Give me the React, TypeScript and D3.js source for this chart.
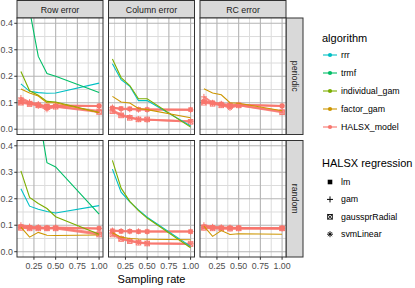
import React from 'react'
import * as d3 from 'd3'

const samplingRates = [0.1, 0.2, 0.3, 0.4, 0.5, 1.0]
const xTicks = [0.25, 0.5, 0.75, 1.0]
const xMinor = [0.125, 0.375, 0.625, 0.875]
const yTicks = [0, 0.1, 0.2, 0.3, 0.4]
const yMinor = [0.05, 0.15, 0.25, 0.35]

const errorTypes = ['Row error', 'Column error', 'RC error']
const patterns = ['periodic', 'random']
const algorithms = ['rrr', 'trmf', 'individual_gam', 'factor_gam', 'HALSX_model']
const algorithmColours = ['#00BFC4', '#00BE67', '#7CAE00', '#CD9600', '#F8766D']
const regressions = ['lm', 'gam', 'gaussprRadial', 'svmLinear']

// Row error, periodic
const rrrRowPeriodic = [0.171, 0.143, 0.138, 0.136, 0.137, 0.174]
const trmfRowPeriodic = [0.62, 0.45, 0.275, 0.21, 0.2, 0.139]
const indGamRowPeriodic = [0.218, 0.145, 0.128, 0.105, 0.103, 0.063]
const facGamRowPeriodic = [0.152, 0.137, 0.125, 0.1, 0.1, 0.062]
const lmRowPeriodic = [0.102, 0.098, 0.092, 0.088, 0.088, 0.088]
const gamRowPeriodic = [0.118, 0.102, 0.095, 0.08, 0.09, 0.088]
const gpRowPeriodic = [0.1, 0.095, 0.09, 0.085, 0.085, 0.065]
const svmRowPeriodic = [0.11, 0.1, 0.088, 0.075, 0.086, 0.07]

// Column error, periodic
const rrrColPeriodic = [0.247, 0.187, 0.162, 0.108, 0.108, 0.012]
const indGamColPeriodic = [0.265, 0.195, 0.165, 0.115, 0.115, 0.008]
const facGamColPeriodic = [0.124, 0.103, 0.099, 0.078, 0.074, 0.043]
const lmColPeriodic = [0.08, 0.078, 0.077, 0.075, 0.074, 0.074]
const gamColPeriodic = [0.082, 0.076, 0.075, 0.074, 0.074, 0.073]
const gpColPeriodic = [0.068, 0.052, 0.043, 0.037, 0.037, 0.028]
const svmColPeriodic = [0.072, 0.055, 0.045, 0.038, 0.036, 0.03]

// RC error, periodic
const facGamRcPeriodic = [0.153, 0.137, 0.13, 0.1, 0.098, 0.07]
const lmRcPeriodic = [0.104, 0.1, 0.095, 0.092, 0.092, 0.088]
const gamRcPeriodic = [0.122, 0.1, 0.096, 0.085, 0.092, 0.088]
const gpRcPeriodic = [0.1, 0.096, 0.09, 0.088, 0.09, 0.064]
const svmRcPeriodic = [0.108, 0.098, 0.092, 0.08, 0.09, 0.068]

// Row error, random
const rrrRowRandom = [0.238, 0.172, 0.16, 0.152, 0.146, 0.174]
const trmfRowRandom = [0.8, 0.65, 0.53, 0.336, 0.32, 0.142]
const indGamRowRandom = [0.305, 0.205, 0.182, 0.163, 0.132, 0.066]
const facGamRowRandom = [0.093, 0.055, 0.073, 0.062, 0.061, 0.063]
const lmRowRandom = [0.095, 0.092, 0.091, 0.09, 0.09, 0.088]
const gamRowRandom = [0.1, 0.095, 0.092, 0.09, 0.091, 0.088]
const gpRowRandom = [0.09, 0.088, 0.088, 0.088, 0.088, 0.065]
const svmRowRandom = [0.092, 0.09, 0.09, 0.089, 0.09, 0.07]

// Column error, random
const rrrColRandom = [0.312, 0.225, 0.188, 0.158, 0.13, 0.02]
const indGamColRandom = [0.345, 0.24, 0.19, 0.155, 0.127, 0.015]
const facGamColRandom = [0.072, 0.055, 0.05, 0.048, 0.047, 0.045]
const lmColRandom = [0.079, 0.077, 0.077, 0.076, 0.076, 0.076]
const gamColRandom = [0.08, 0.078, 0.077, 0.077, 0.076, 0.076]
const gpColRandom = [0.065, 0.048, 0.04, 0.034, 0.031, 0.029]
const svmColRandom = [0.07, 0.05, 0.042, 0.036, 0.032, 0.03]

// RC error, random
const facGamRcRandom = [0.097, 0.058, 0.08, 0.065, 0.068, 0.066]
const lmRcRandom = [0.094, 0.092, 0.09, 0.09, 0.09, 0.089]
const gamRcRandom = [0.1, 0.094, 0.092, 0.091, 0.09, 0.089]
const gpRcRandom = [0.09, 0.088, 0.088, 0.087, 0.088, 0.088]
const svmRcRandom = [0.092, 0.09, 0.089, 0.088, 0.089, 0.088]

const algoSeries = [
  { e: 0, p: 0, a: 'rrr', v: rrrRowPeriodic },
  { e: 0, p: 0, a: 'trmf', v: trmfRowPeriodic },
  { e: 0, p: 0, a: 'individual_gam', v: indGamRowPeriodic },
  { e: 0, p: 0, a: 'factor_gam', v: facGamRowPeriodic },
  { e: 1, p: 0, a: 'rrr', v: rrrColPeriodic },
  { e: 1, p: 0, a: 'individual_gam', v: indGamColPeriodic },
  { e: 1, p: 0, a: 'factor_gam', v: facGamColPeriodic },
  { e: 2, p: 0, a: 'factor_gam', v: facGamRcPeriodic },
  { e: 0, p: 1, a: 'rrr', v: rrrRowRandom },
  { e: 0, p: 1, a: 'trmf', v: trmfRowRandom },
  { e: 0, p: 1, a: 'individual_gam', v: indGamRowRandom },
  { e: 0, p: 1, a: 'factor_gam', v: facGamRowRandom },
  { e: 1, p: 1, a: 'rrr', v: rrrColRandom },
  { e: 1, p: 1, a: 'individual_gam', v: indGamColRandom },
  { e: 1, p: 1, a: 'factor_gam', v: facGamColRandom },
  { e: 2, p: 1, a: 'factor_gam', v: facGamRcRandom },
]

const halsxSeries = [
  { e: 0, p: 0, r: 'lm', v: lmRowPeriodic }, { e: 0, p: 0, r: 'gam', v: gamRowPeriodic },
  { e: 0, p: 0, r: 'gaussprRadial', v: gpRowPeriodic }, { e: 0, p: 0, r: 'svmLinear', v: svmRowPeriodic },
  { e: 1, p: 0, r: 'lm', v: lmColPeriodic }, { e: 1, p: 0, r: 'gam', v: gamColPeriodic },
  { e: 1, p: 0, r: 'gaussprRadial', v: gpColPeriodic }, { e: 1, p: 0, r: 'svmLinear', v: svmColPeriodic },
  { e: 2, p: 0, r: 'lm', v: lmRcPeriodic }, { e: 2, p: 0, r: 'gam', v: gamRcPeriodic },
  { e: 2, p: 0, r: 'gaussprRadial', v: gpRcPeriodic }, { e: 2, p: 0, r: 'svmLinear', v: svmRcPeriodic },
  { e: 0, p: 1, r: 'lm', v: lmRowRandom }, { e: 0, p: 1, r: 'gam', v: gamRowRandom },
  { e: 0, p: 1, r: 'gaussprRadial', v: gpRowRandom }, { e: 0, p: 1, r: 'svmLinear', v: svmRowRandom },
  { e: 1, p: 1, r: 'lm', v: lmColRandom }, { e: 1, p: 1, r: 'gam', v: gamColRandom },
  { e: 1, p: 1, r: 'gaussprRadial', v: gpColRandom }, { e: 1, p: 1, r: 'svmLinear', v: svmColRandom },
  { e: 2, p: 1, r: 'lm', v: lmRcRandom }, { e: 2, p: 1, r: 'gam', v: gamRcRandom },
  { e: 2, p: 1, r: 'gaussprRadial', v: gpRcRandom }, { e: 2, p: 1, r: 'svmLinear', v: svmRcRandom },
]

const font = '"Liberation Sans", Arial, Helvetica, sans-serif'
const colour = d3.scaleOrdinal<string, string>().domain(algorithms).range(algorithmColours)

const margin = { left: 17, top: 18 }
const panelW = 86
const panelH = 116.5
const gap = 5.5
const stripW = 17

function Shape({ type, x, y, fill }: { type: string, x: number, y: number, fill: string }) {
  const s = 2.3
  if (type === 'lm') return <rect x={x - s} y={y - s} width={s * 2} height={s * 2} fill={fill} />
  if (type === 'gam') return <path d={`M${x - 3},${y}H${x + 3}M${x},${y - 3}V${y + 3}`} stroke={fill} strokeWidth={1} />
  if (type === 'gaussprRadial') return (
    <g stroke={fill} strokeWidth={0.9} fill="none">
      <rect x={x - s} y={y - s} width={s * 2} height={s * 2} />
      <path d={`M${x - s},${y - s}L${x + s},${y + s}M${x - s},${y + s}L${x + s},${y - s}`} />
    </g>
  )
  const d = 2.5
  return <path d={`M${x - 3},${y}H${x + 3}M${x},${y - 3}V${y + 3}M${x - d * 0.8},${y - d * 0.8}L${x + d * 0.8},${y + d * 0.8}M${x - d * 0.8},${y + d * 0.8}L${x + d * 0.8},${y - d * 0.8}`} stroke={fill} strokeWidth={0.9} />
}

export default function App() {
  const x = d3.scaleLinear().domain([0.055, 1.045]).range([0, panelW])
  const y = d3.scaleLinear().domain([-0.02, 0.42]).range([panelH, 0])
  const line = d3.line<number>().x((_, i) => x(samplingRates[i])).y(d => y(d))
  const px = (e: number) => margin.left + e * (panelW + gap)
  const py = (p: number) => margin.top + p * (panelH + 6)
  const fmtY = d3.format('.1f')
  const fmtX = d3.format('.2f')
  const halsx = colour('HALSX_model')

  return (
    <svg width={415} height={288} style={{ position: 'absolute', left: 0, top: 0, background: '#fff' }} fontFamily={font}>
      <defs>
        {patterns.map((_, p) => errorTypes.map((_, e) => (
          <clipPath id={`clip-${e}-${p}`} key={`${e}-${p}`}>
            <rect x={0} y={0} width={panelW} height={panelH} />
          </clipPath>
        )))}
      </defs>

      {/* strips on top */}
      {errorTypes.map((t, e) => (
        <g key={t} transform={`translate(${px(e)},0.5)`}>
          <rect width={panelW} height={margin.top - 0.5} fill="#d9d9d9" stroke="#333" strokeWidth={1} />
          <text x={panelW / 2} y={12.3} textAnchor="middle" fontSize={8.8} fill="#1a1a1a">{t}</text>
        </g>
      ))}

      {/* strips on the right */}
      {patterns.map((t, p) => (
        <g key={t} transform={`translate(${px(2) + panelW},${py(p)})`}>
          <rect width={stripW} height={panelH} fill="#d9d9d9" stroke="#333" strokeWidth={1} />
          <text transform={`translate(${stripW / 2 - 3},${panelH / 2}) rotate(90)`} textAnchor="middle" fontSize={8.8} fill="#1a1a1a">{t}</text>
        </g>
      ))}

      {patterns.map((pat, p) => errorTypes.map((err, e) => (
        <g key={`${err}-${pat}`} transform={`translate(${px(e)},${py(p)})`}>
          <rect width={panelW} height={panelH} fill="#fff" />
          {xMinor.map(t => <line key={`xm${t}`} x1={x(t)} x2={x(t)} y1={0} y2={panelH} stroke="#dcdcdc" strokeWidth={1} />)}
          {yMinor.map(t => <line key={`ym${t}`} y1={y(t)} y2={y(t)} x1={0} x2={panelW} stroke="#dcdcdc" strokeWidth={1} />)}
          {xTicks.map(t => <line key={`x${t}`} x1={x(t)} x2={x(t)} y1={0} y2={panelH} stroke="#b4b4b4" strokeWidth={1.1} />)}
          {yTicks.map(t => <line key={`y${t}`} y1={y(t)} y2={y(t)} x1={0} x2={panelW} stroke="#b4b4b4" strokeWidth={1.1} />)}

          <g clipPath={`url(#clip-${e}-${p})`}>
            {halsxSeries.filter(s => s.e === e && s.p === p).map(s => (
              <path key={s.r} d={line(s.v) ?? ''} fill="none" stroke={halsx} strokeWidth={2} strokeOpacity={0.85} />
            ))}
            {halsxSeries.filter(s => s.e === e && s.p === p).map(s => (
              <g key={`pt-${s.r}`}>
                {s.v.map((v, i) => <Shape key={i} type={s.r} x={x(samplingRates[i])} y={y(v)} fill={halsx} />)}
              </g>
            ))}
            {algoSeries.filter(s => s.e === e && s.p === p).map(s => (
              <path key={s.a} d={line(s.v) ?? ''} fill="none" stroke={colour(s.a)} strokeWidth={1.1} />
            ))}
          </g>

          <rect width={panelW} height={panelH} fill="none" stroke="#333" strokeWidth={1} />

          {e === 0 && yTicks.map(t => (
            <g key={`yl${t}`}>
              <line x1={-2.75} x2={0} y1={y(t)} y2={y(t)} stroke="#333" />
              <text x={-4.2} y={y(t)} dy="0.35em" textAnchor="end" fontSize={8.8} fill="#4d4d4d">{fmtY(t)}</text>
            </g>
          ))}
          {p === 1 && xTicks.map(t => (
            <g key={`xl${t}`}>
              <line x1={x(t)} x2={x(t)} y1={panelH} y2={panelH + 2.75} stroke="#333" />
              <text x={x(t)} y={panelH + 12.2} textAnchor="middle" fontSize={8.8} fill="#4d4d4d">{fmtX(t)}</text>
            </g>
          ))}
        </g>
      )))}

      <text x={px(0) + (px(2) + panelW - px(0)) / 2} y={283} textAnchor="middle" fontSize={11} fill="#000">Sampling rate</text>

      {/* algorithm legend */}
      <g transform="translate(322,0)">
        <text x={0} y={42} fontSize={11} fill="#000">algorithm</text>
        {algorithms.map((a, i) => (
          <g key={a} transform={`translate(0,${55 + i * 18})`}>
            <line x1={1} x2={15} y1={0} y2={0} stroke={colour(a)} strokeWidth={1.1} />
            <circle cx={8} cy={0} r={2.1} fill={colour(a)} />
            <text x={19} y={0} dy="0.35em" fontSize={8.8} fill="#000">{a}</text>
          </g>
        ))}
      </g>

      {/* regression legend */}
      <g transform="translate(322,0)">
        <text x={0} y={167} fontSize={11} fill="#000">HALSX regression</text>
        {regressions.map((r, i) => (
          <g key={r}>
            <Shape type={r} x={8} y={182 + i * 17.4} fill="#000" />
            <text x={19} y={182 + i * 17.4} dy="0.35em" fontSize={8.8} fill="#000">{r}</text>
          </g>
        ))}
      </g>
    </svg>
  )
}
